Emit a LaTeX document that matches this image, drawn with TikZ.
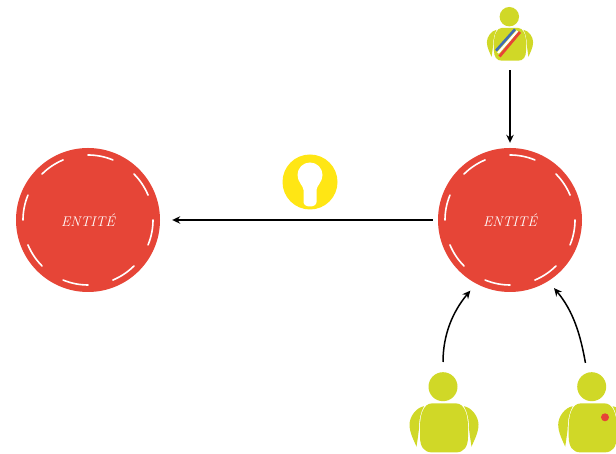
\documentclass[tikz,border=0pt]{standalone}
\usepackage{xcolor}
\usetikzlibrary{arrows.meta}
\definecolor{entitered}{HTML}{E64537}
\definecolor{personolive}{HTML}{D0D827}
\definecolor{keyyellow}{HTML}{FFE614}
\definecolor{sashblue}{HTML}{3F6DB5}
\tikzset{
    person/.pic={
        \node[head, transform shape] (-head) at (-1,0) {};
        \coordinate (-foot) at (0,-80);
        \fill[personolive] (-12,-16.7) .. controls (-20,-16.7) and (-24,-27) .. (-24,-40)
            -- (-24,-50) .. controls (-24,-60) and (-20,-65.7) .. (-12,-65.7)
            -- (12,-65.7) .. controls (20,-65.7) and (24,-60) .. (24,-50)
            -- (24,-40) .. controls (24,-27) and (20,-16.7) .. (12,-16.7) -- cycle; % body
        \foreach \side in {-1,1} {
            \fill[personolive, xscale=\side] (20,-19.5) .. controls (28,-21) and (34.5,-30) .. (34.5,-38)
                .. controls (34.5,-46) and (30,-54) .. (27.5,-60)
                .. controls (26,-50) .. (25,-42)
                .. controls (25,-33) and (23.5,-26) .. cycle; % arm
        }
    }
}
\begin{document}
\begin{tikzpicture}[
    x=1pt, y=1pt,
    entity/.style={circle, fill=entitered, text=white, minimum size=144pt, inner sep=0pt, font=\fontsize{14}{16}\selectfont\itshape}, % red disc
    head/.style={circle, fill=personolive, minimum size=29pt, inner sep=0pt}, % person head
    keydisc/.style={circle, fill=keyyellow, minimum size=55pt, inner sep=0pt}, % key disc
    link/.style={-{Stealth[length=8pt,width=7.5pt]}, line width=1.2pt, black}, % arrows
    ringdash/.style={white, line width=1.6pt, line cap=round} % white arcs
]
\useasboundingbox (0,0) rectangle (616,454);
\node[entity] (entiteA) at (88,234) {ENTITÉ};
\node[entity] (entiteB) at (510,234) {ENTITÉ};
\node[keydisc] (cle) at (310,272) {};
\foreach \c in {entiteA,entiteB} {
    \foreach \a in {0,45,...,315} {
        \draw[ringdash] ([shift={(\a:65)}]\c.center) arc[start angle=\a, delta angle=-22.5, radius=65];
    }
}
% key hole
\fill[white] (303.5,252) -- (303.5,264) .. controls (303.5,268) and (297.5,272) .. (297.5,279)
    .. controls (297.5,286) and (303,291.5) .. (310,291.5)
    .. controls (317,291.5) and (322.5,286) .. (322.5,279)
    .. controls (322.5,272) and (316.5,268) .. (316.5,264)
    -- (316.5,252) .. controls (316.5,246) and (303.5,246) .. (303.5,252) -- cycle;
% persons
\pic[scale=0.67] (maire) at (510,437.3) {person};
\pic (usagerA) at (444,67.3) {person};
\pic (usagerB) at (592.7,67.3) {person};
% sash and dot
\draw[sashblue, line width=2.6pt] (496,403.3) -- (515,424.7);
\draw[white, line width=2.2pt] (498,401) -- (517.5,423);
\draw[entitered, line width=2.8pt] (499.5,397.5) -- (520,422);
\node[circle, fill=entitered, minimum size=8pt, inner sep=0pt] (badge) at (605,36.7) {};
% arrows
\draw[link, shorten >=5pt] (maire-foot) -- (entiteB);
\draw[link, shorten <=5pt, shorten >=12pt] (entiteB) -- (entiteA);
\draw[link, line width=1.5pt, shorten <=10pt, shorten >=9pt] (usagerA-head.north) to[out=90, in=-130] (entiteB.-118);
\draw[link, line width=1.5pt, shorten <=10pt, shorten >=9pt] (usagerB-head.108) to[out=100, in=-50] (entiteB.-58);
\end{tikzpicture}
\end{document}
